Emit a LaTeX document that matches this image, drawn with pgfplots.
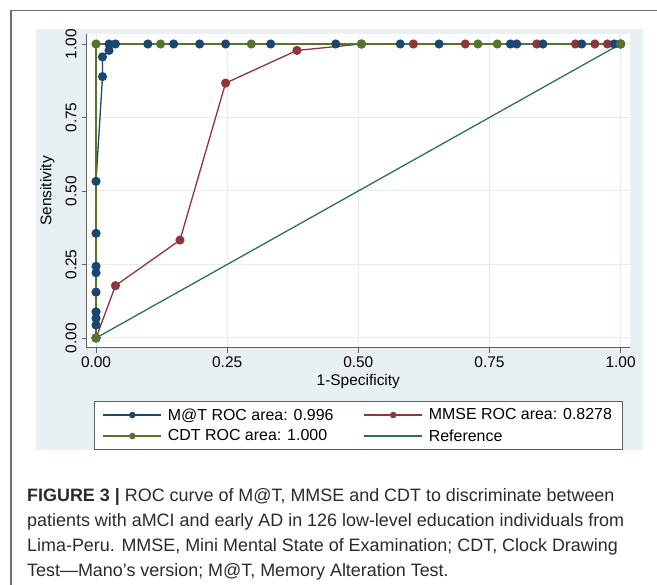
\documentclass[border=0pt]{standalone}
\usepackage{pgfplots}
\pgfplotsset{compat=1.18}
\usepackage{fontspec}
\setmainfont{Liberation Sans}
\definecolor{mnavy}{RGB}{26,71,111}
\definecolor{mmaroon}{RGB}{144,53,59}
\definecolor{mgreen}{RGB}{85,117,47}
\definecolor{mteal}{RGB}{45,112,98}
\definecolor{panel}{RGB}{233,240,244}
\definecolor{gridc}{RGB}{228,236,240}
\definecolor{axisgray}{RGB}{95,95,95}
\definecolor{framec}{RGB}{110,110,110}
\definecolor{captc}{RGB}{45,42,43}
\newcommand{\chartfont}{\fontsize{15.5}{18}\selectfont}
\newcommand{\legfont}{\fontsize{16}{18}\selectfont}
\begin{document}
\begin{tikzpicture}[x=1bp,y=1bp]
\useasboundingbox (0,0) rectangle (657,585);
\fill[white] (0,0) rectangle (657,585);
\draw[framec, line width=1.2bp] (11,0) -- (11,574.5) -- (657,574.5);
\fill[panel] (36,556) rectangle (643,135);
\begin{axis}[
  at={(86.6bp,237bp)}, anchor=south west,
  scale only axis, width=543.4bp, height=314bp,
  xmin=-0.018, xmax=1.018, ymin=-0.034, ymax=1.034,
  axis x line*=bottom, axis y line*=left,
  axis line style={axisgray, line width=1bp, -},
  xtick={0,0.25,0.5,0.75,1}, ytick={0,0.25,0.5,0.75,1},
  xticklabels={0.00,0.25,0.50,0.75,1.00},
  yticklabels={0.00,0.25,0.50,0.75,1.00},
  tick align=outside, major tick length=5bp,
  tick style={axisgray, line width=0.8bp},
  grid=major, major grid style={gridc, line width=1bp},
  axis background/.style={fill=white},
  ticklabel style={font=\chartfont},
  yticklabel style={rotate=90, anchor=south, inner ysep=5bp},
  xlabel={1-Specificity}, ylabel={Sensitivity},
  label style={font=\chartfont},
  xlabel style={at={(axis description cs:0.5,-0.107)}, anchor=center},
  ylabel style={at={(axis description cs:-0.072,0.5)}, anchor=center},
  legend columns=2,
  legend cell align=left,
  legend image code/.code={\draw[mark repeat=2, mark phase=2, #1] plot coordinates {(0bp,0bp) (29bp,0bp) (58bp,0bp)};},
  legend style={at={(0.5,-0.3248)}, anchor=south, draw=axisgray, line width=0.8bp, fill=white,
    font=\legfont, inner xsep=8bp, inner ysep=5bp, row sep=4bp,
    /tikz/every odd column/.append style={column sep=4bp},
    /tikz/every even column/.append style={column sep=28bp}},
]
\addlegendimage{mnavy, line width=1.3bp, mark=*, mark size=2.6bp}
\addlegendentry{M@T ROC area: 0.996}
\addlegendimage{mmaroon, line width=1.3bp, mark=*, mark size=2.6bp}
\addlegendentry{MMSE ROC area: 0.8278}
\addlegendimage{mgreen, line width=1.3bp, mark=*, mark size=2.6bp}
\addlegendentry{CDT ROC area: 1.000}
\addlegendimage{mteal, line width=1.3bp}
\addlegendentry{Reference}

% Reference line
\addplot[mteal, line width=1.3bp, no marks, forget plot] coordinates {(0,0) (1,1)};
% MMSE
\addplot[mmaroon, line width=1.3bp, mark=*, mark size=3.9bp, forget plot] coordinates {
(0,0) (0.037,0.178) (0.160,0.333) (0.247,0.867) (0.383,0.978) (0.506,1)
(0.605,1) (0.704,1) (0.840,1) (0.914,1) (0.951,1) (0.975,1) (1,1)};
% M@T
\addplot[mnavy, line width=1.3bp, mark=*, mark size=3.9bp, forget plot] coordinates {
(0,0) (0,0.044) (0,0.067) (0,0.089) (0,0.156) (0,0.222) (0,0.244) (0,0.356) (0,0.533)
(0.0123,0.889) (0.0123,0.956) (0.0247,0.978) (0.0247,1) (0.037,1) (0.0988,1) (0.148,1)
(0.1975,1) (0.247,1) (0.333,1) (0.457,1) (0.580,1) (0.654,1) (0.790,1) (0.802,1)
(0.852,1) (0.926,1) (0.988,1) (1,1)};
% CDT
\addplot[mgreen, line width=1.3bp, mark=*, mark size=3.9bp, forget plot] coordinates {
(0,0) (0,1) (0.123,1) (0.296,1) (0.506,1) (0.728,1) (0.765,1) (1,1)};
\end{axis}
\begin{scope}[captc]
\node[anchor=base west, inner sep=0] at (27,83) {\fontsize{18}{25}\selectfont\textbf{FIGURE 3 |} ROC curve of M@T, MMSE and CDT to discriminate between};
\node[anchor=base west, inner sep=0] at (27,58) {\fontsize{18}{25}\selectfont patients with aMCI and early AD in 126 low-level education individuals from};
\node[anchor=base west, inner sep=0] at (27,33) {\fontsize{18}{25}\selectfont Lima-Peru. MMSE, Mini Mental State of Examination; CDT, Clock Drawing};
\node[anchor=base west, inner sep=0] at (27,8) {\fontsize{18}{25}\selectfont Test---Mano's version; M@T, Memory Alteration Test.};
\end{scope}
\end{tikzpicture}
\end{document}
